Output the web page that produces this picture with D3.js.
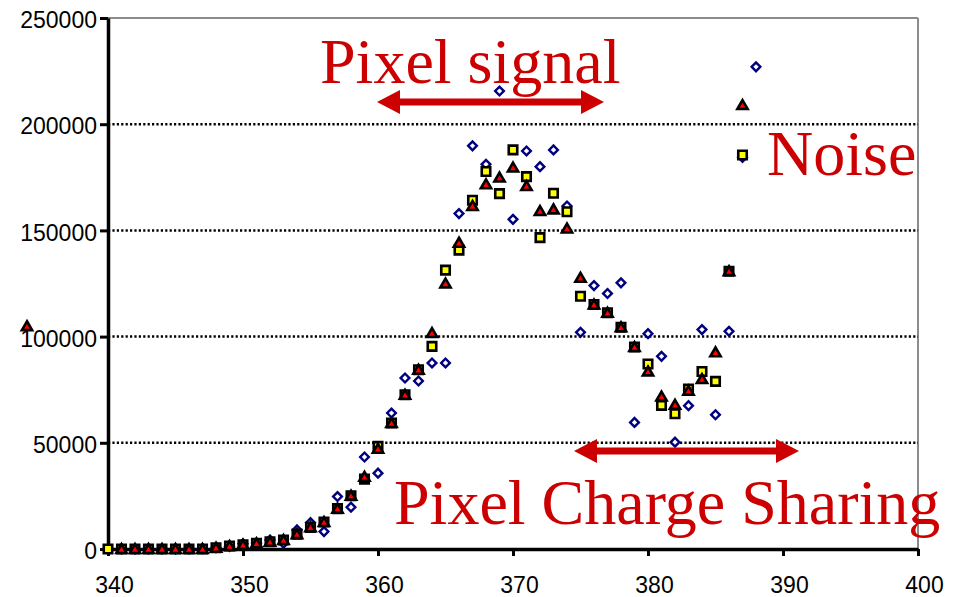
<!DOCTYPE html>
<html>
<head>
<meta charset="utf-8">
<script src="https://cdn.jsdelivr.net/npm/d3@7/dist/d3.min.js"></script>
<style>
  html, body { margin: 0; padding: 0; background: #fff; }
  svg { display: block; }
  .tick text { font-family: "Liberation Sans", Arial, sans-serif; font-size: 23px; fill: #000; }
  .note { font-family: "Liberation Serif", "Times New Roman", serif; font-size: 64px; fill: #cc0000; }
</style>
</head>
<body>
<svg id="chart" width="958" height="597"></svg>
<script>
// Positions (x) shared by the series
const xDiamond = d3.range(340, 389);          // 340 .. 388
const xSquare  = d3.range(340, 388);          // 340 .. 387
const xTriangle = [334].concat(d3.range(341, 388)); // 334, 341 .. 387

// Series values
const diamondValues = [
  0, 0, 0, 0, 0, 0, 0, 200, 600, 1200,
  2500, 2800, 4200, 2700, 9000, 12400, 8200, 24700, 19700, 43300,
  35700, 64000, 80500, 79100, 87600, 87600, 157900, 189800, 181100, 215600,
  155200, 187400, 180000, 187900, 161500, 102000, 124000, 120300, 125300, 59600,
  101400, 90700, 50300, 67500, 103300, 63200, 102500, 184400, 227000
];
const squareValues = [
  0, 0, 0, 0, 0, 0, 0, 0, 600, 1400,
  2000, 2700, 3400, 4200, 7000, 10200, 12700, 19000, 25100, 32900,
  48300, 59300, 72600, 84400, 95400, 131300, 140700, 164200, 177700, 167300,
  187900, 175300, 146600, 167500, 158800, 119000, 115100, 111200, 104400, 95100,
  87100, 67600, 63700, 75300, 83600, 78900, 130800, 185500
];
const triangleValues = [
  104900,
  0, 0, 0, 0, 0, 0, 0, 600, 1400,
  2000, 2700, 3400, 4200, 7000, 10200, 12700, 19000, 25100, 34000,
  47200, 59300, 72600, 84400, 101700, 125000, 144200, 161500, 171700, 174900,
  179600, 170900, 159100, 159900, 150900, 127700, 115100, 111200, 104400, 95100,
  83600, 71800, 67900, 74500, 80000, 92600, 130800, 209000
];

// Axis ticks
const xTicks = [340, 350, 360, 370, 380, 390, 400];
const yTicks = [0, 50000, 100000, 150000, 200000, 250000];
const gridValues = [50000, 100000, 150000, 200000];

// Annotations
const notes = [
  { text: "Pixel signal", x: 320, y: 83 },
  { text: "Noise", x: 767, y: 175 },
  { text: "Pixel Charge Sharing", x: 394, y: 524 }
];
const arrows = [
  { x1: 377, x2: 604, y: 102 },
  { x1: 574, x2: 799, y: 451 }
];

const svg = d3.select("#chart");
const x = d3.scaleLinear().domain([340, 400]).range([108, 918]);
const y = d3.scaleLinear().domain([0, 250000]).range([549, 18]);

// Plot frame (top and right in grey)
svg.append("line").attr("x1", x(340)).attr("x2", x(400)).attr("y1", y(250000)).attr("y2", y(250000))
  .attr("stroke", "#8c8c8c").attr("stroke-width", 2);
svg.append("line").attr("x1", x(400)).attr("x2", x(400)).attr("y1", y(250000)).attr("y2", y(0))
  .attr("stroke", "#8c8c8c").attr("stroke-width", 2);

// Dotted horizontal gridlines
svg.append("g").selectAll("line").data(gridValues).join("line")
  .attr("x1", x(340)).attr("x2", x(400))
  .attr("y1", d => y(d)).attr("y2", d => y(d))
  .attr("stroke", "#000").attr("stroke-width", 2.5)
  .attr("stroke-dasharray", "2.2,2.2");

// Axes
const xAxis = d3.axisBottom(x).tickValues(xTicks).tickFormat(d3.format("d"))
  .tickSize(7).tickSizeOuter(0).tickPadding(21);
const gx = svg.append("g").attr("transform", `translate(0,${y(0)})`).call(xAxis);
gx.select(".domain").attr("stroke-width", 3.5);
gx.selectAll(".tick line").attr("stroke-width", 3);
gx.selectAll(".tick text").attr("dx", 6);

const yAxis = d3.axisLeft(y).tickValues(yTicks).tickFormat(d3.format("d"))
  .tickSize(8).tickSizeOuter(0).tickPadding(3);
const gy = svg.append("g").attr("transform", `translate(${x(340)},0)`).call(yAxis);
gy.select(".domain").attr("stroke-width", 3.5);
gy.selectAll(".tick line").attr("stroke-width", 3);
gy.selectAll(".tick text").attr("dy", "0.42em");
[gx, gy].forEach(g => g.attr("font-family", null).attr("font-size", null));

// Markers
const diamondSym = d3.symbol().type(d3.symbolSquare).size(38);
const squareSym = d3.symbol().type(d3.symbolSquare).size(72);
const triangleSym = d3.symbol().type(d3.symbolTriangle).size(46);

svg.append("g").selectAll("path").data(xDiamond.map((v, i) => [v, diamondValues[i]])).join("path")
  .attr("d", diamondSym)
  .attr("transform", d => `translate(${x(d[0])},${y(d[1])}) rotate(45)`)
  .attr("fill", "#fff").attr("stroke", "#000080").attr("stroke-width", 2.4);

svg.append("g").selectAll("path").data(xSquare.map((v, i) => [v, squareValues[i]])).join("path")
  .attr("d", squareSym)
  .attr("transform", d => `translate(${x(d[0])},${y(d[1])})`)
  .attr("fill", "#ffff00").attr("stroke", "#000").attr("stroke-width", 2.6);

svg.append("g").selectAll("path").data(xTriangle.map((v, i) => [v, triangleValues[i]])).join("path")
  .attr("d", triangleSym)
  .attr("transform", d => `translate(${x(d[0])},${y(d[1]) + 1})`)
  .attr("fill", "#ff0000").attr("stroke", "#000").attr("stroke-width", 2.6)
  .attr("stroke-linejoin", "miter");

// Double-headed arrows
const headLen = 23, headHalf = 12, shaftHalf = 3.5;
svg.append("g").selectAll("path").data(arrows).join("path")
  .attr("d", a => {
    const p = d3.path();
    p.moveTo(a.x1, a.y);
    p.lineTo(a.x1 + headLen, a.y - headHalf);
    p.lineTo(a.x1 + headLen, a.y - shaftHalf);
    p.lineTo(a.x2 - headLen, a.y - shaftHalf);
    p.lineTo(a.x2 - headLen, a.y - headHalf);
    p.lineTo(a.x2, a.y);
    p.lineTo(a.x2 - headLen, a.y + headHalf);
    p.lineTo(a.x2 - headLen, a.y + shaftHalf);
    p.lineTo(a.x1 + headLen, a.y + shaftHalf);
    p.lineTo(a.x1 + headLen, a.y + headHalf);
    p.closePath();
    return p.toString();
  })
  .attr("fill", "#cc0000");

// Text annotations
svg.append("g").selectAll("text").data(notes).join("text")
  .attr("class", "note")
  .attr("x", d => d.x).attr("y", d => d.y)
  .text(d => d.text);
</script>
</body>
</html>
